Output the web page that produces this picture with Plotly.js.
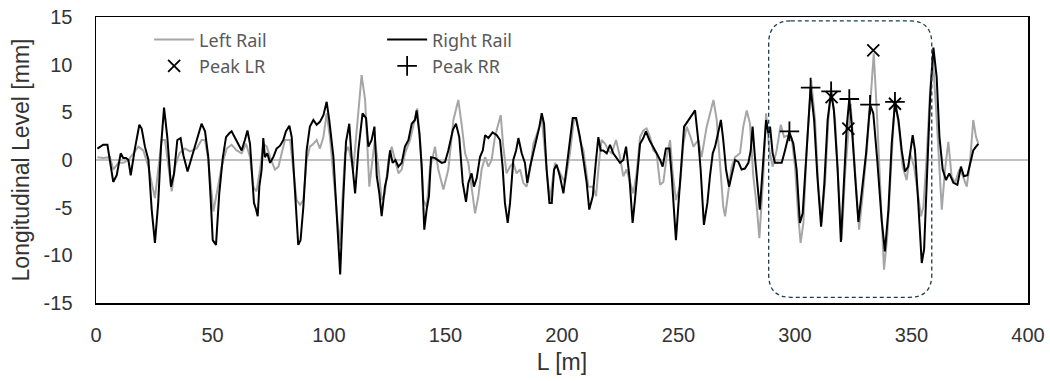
<!DOCTYPE html>
<html>
<head>
<meta charset="utf-8">
<script src="https://cdn.plot.ly/plotly-3.0.1.min.js"></script>
<style>html,body{margin:0;padding:0;background:#fff;}#chart{width:1050px;height:381px;}</style>
</head>
<body>
<div id="chart"></div>
<script>
// Right rail (black) — distance [m] and level [mm]
const rightRailL = [0.6,3.1,4.9,7.4,8.9,10.6,11.7,12.9,13.9,14.9,16.7,18.6,19.6,21.0,22.5,23.9,25.3,26.7,27.9,29.2,30.6,32.2,33.5,34.9,36.3,37.5,39.3,41.1,42.5,43.9,45.3,46.8,48.2,49.2,50.1,51.5,52.9,54.4,55.8,57.2,58.2,59.7,61.1,62.5,63.9,65.0,66.1,66.8,67.8,68.7,69.4,70.1,71.1,71.8,72.5,73.5,74.7,76.1,77.5,79.0,80.4,81.5,83.0,84.0,85.0,85.8,86.8,87.8,89.0,90.4,91.8,93.3,94.7,96.1,97.6,99.0,100.1,101.9,103.3,104.8,106.1,107.3,108.7,109.7,111.2,112.6,114.4,115.9,116.9,118.3,119.5,120.5,121.6,122.6,124.0,125.0,126.2,127.3,128.5,129.8,131.2,132.6,134.1,135.5,136.9,137.6,138.8,139.8,140.9,141.9,142.9,143.8,145.5,146.9,148.4,149.8,151.2,153.2,154.5,155.9,157.4,158.8,159.8,161.2,162.2,163.4,164.8,166.0,167.0,168.4,170.2,172.0,173.4,174.5,175.5,176.7,177.7,179.1,180.3,181.3,182.7,184.1,185.1,186.3,187.7,189.1,190.3,191.3,192.3,193.4,194.6,195.6,196.6,197.7,199.1,200.6,202.0,203.1,204.6,206.0,207.7,209.2,210.6,211.7,213.2,214.6,215.6,216.6,217.7,219.2,220.6,222.0,223.5,224.9,226.3,227.5,228.9,230.3,231.3,232.5,233.5,234.9,236.0,237.5,238.9,240.6,242.1,243.2,244.6,246.1,247.1,248.1,248.9,249.9,251.4,252.4,253.8,255.2,257.1,258.5,259.5,260.9,262.4,263.5,264.7,265.7,267.1,268.2,269.2,270.4,271.7,272.8,274.3,275.7,277.1,278.5,280.0,281.0,281.8,282.8,284.0,284.9,286.1,287.6,288.6,289.3,290.4,291.4,292.9,294.3,295.7,297.6,299.3,300.7,302.1,303.3,304.3,305.4,306.7,308.2,309.6,311.2,312.6,314.0,315.5,316.7,318.3,319.7,321.0,322.2,323.3,324.3,325.8,327.2,328.6,330.5,332.2,333.6,335.3,337.2,338.6,340.1,341.5,342.9,344.4,345.8,347.2,348.6,350.5,351.5,352.9,354.4,355.4,356.5,358.0,359.4,360.8,362.0,363.4,364.8,366.2,368.0,369.7,371.2,372.5,374.0,375.1,376.5,377.7,378.7];
const rightRailV = [1.2,1.6,1.6,-2.3,-1.6,0.7,0.2,0.2,0,-1.6,1.2,3.7,3.3,1.4,0,-5.2,-8.7,-4.5,1.4,5.5,2.4,-2.8,-1.4,2.1,2.3,0.5,-1.2,0.3,1.2,2.6,3.8,3.0,0.3,-4.0,-8.4,-8.9,-3.5,0.2,2.4,2.8,3.0,2.3,1.6,1.0,2.1,3.1,1.7,-1.4,-4.5,-5.2,-5.9,-2.8,-1.0,2.3,0.3,0.7,-0.3,0.3,1.2,1.5,2.1,3.0,3.6,2.4,-1.7,-5.9,-8.9,-8.4,-4.9,1.0,3.5,4.2,3.7,4.0,4.7,6.1,4.2,0.3,-5.2,-12.0,-4.2,1.9,3.8,0.3,-3.5,1.0,4.9,4.4,1.4,2.1,3.5,-1.7,-3.5,-5.9,-2.8,-1.7,1.0,-0.3,0,-0.7,-0.3,1.4,2.1,3.8,4.2,5.2,2.8,-0.7,-7.3,-5.2,-3.8,0.3,0.2,0,-0.3,-0.2,1.0,3.2,3.8,2.4,-2.4,-4.4,-2.4,-1.4,-2.8,-1.9,0.3,1.0,2.6,2.3,2.9,2.6,2.1,-0.7,-4.5,-6.6,-4.5,0,1.0,2.3,0.7,-0.3,-2.4,-0.7,0.7,2.4,3.5,4.9,3.8,-1.0,-4.5,-4.5,-1.0,-0.5,-1.7,-3.5,-0.7,1.7,4.4,4.4,2.4,0,-2.4,-5.2,-3.8,0,2.4,1.0,1.0,0.7,1.6,0.7,0.2,-0.3,0,1.4,-1.7,-6.6,-4.2,-0.7,1.7,2.3,3.0,2.1,1.4,0.7,0,-0.7,1.2,1.2,-1.7,-5.9,-8.4,-4.9,0.7,3.5,4.0,4.5,5.2,2.0,-1.0,-6.8,-4.5,-1.7,0.7,1.4,2.8,4.2,2.1,-1.0,-2.8,-1.7,0,-0.2,-1.0,-0.9,-0.3,1.0,3.5,0.3,-2.8,-5.2,-1.0,4.2,2.8,3.5,0.7,-0.3,-0.3,-0.3,1.0,2.9,1.7,-1.0,-6.6,-5.6,-1.7,3.1,7.6,4.2,-1.7,-7.0,-2.4,4.2,7.1,5.2,-1.0,-8.6,-2.4,3.5,6.4,3.8,-1.7,-6.5,-3.5,0.7,5.8,4.9,0,-6.3,-9.6,-5.2,1.7,6.0,4.2,1.0,-1.2,-0.7,2.6,1.0,-4.5,-10.8,-9.4,-1.7,6.6,11.8,8.7,2.4,-1.0,-2.1,-1.4,-2.4,-2.6,-0.7,-1.7,-1.6,-0.3,1.0,1.4,1.7];

// Left rail (grey)
const leftRailL = [0.6,3.1,6.0,7.4,9.6,11.7,13.9,16.0,18.2,20.3,22.5,23.9,25.3,26.7,28.2,29.6,31.0,32.5,33.9,35.8,38.2,40.3,43.2,45.3,46.8,48.2,50.4,51.8,53.9,56.1,58.2,60.4,62.5,64.4,66.1,67.5,68.9,70.4,71.8,73.3,74.7,76.8,78.3,79.7,81.1,83.3,84.7,86.1,87.6,89.0,90.4,91.8,93.3,94.7,96.1,97.6,99.0,100.4,102.6,104.6,106.9,108.3,110.4,111.9,114.0,115.5,116.5,117.3,118.3,119.7,121.2,122.6,124.0,125.5,126.9,128.3,129.8,131.2,132.6,134.8,136.9,137.9,139.1,140.5,141.9,143.3,145.5,146.9,149.1,151.2,153.4,155.5,156.9,158.4,159.8,161.2,162.7,164.1,165.5,167.0,168.4,169.8,171.2,172.7,173.7,174.8,176.2,177.7,179.1,180.5,182.0,183.4,184.8,186.3,187.7,189.8,191.3,193.4,194.8,197.0,199.1,201.3,203.4,205.1,206.3,207.7,209.2,211.3,213.2,214.6,216.0,217.0,218.5,219.9,221.3,223.2,224.9,226.3,227.7,229.2,230.6,232.0,233.5,234.9,236.3,237.8,239.2,240.6,242.1,243.5,244.9,246.4,247.5,248.9,250.6,252.1,253.5,255.2,256.4,258.5,259.9,262.1,263.5,265.0,266.4,267.8,269.2,270.0,271.4,272.8,274.3,276.4,277.8,279.3,280.7,282.1,283.6,284.7,286.4,287.6,289.0,290.4,292.1,293.9,295.3,297.1,298.6,300.0,301.4,302.4,303.6,305.0,306.9,308.6,310.0,311.4,312.9,314.3,315.5,317.2,318.6,320.0,321.5,322.9,323.9,325.0,326.5,327.5,329.0,330.8,332.5,333.8,335.1,336.5,338.2,339.6,341.5,342.9,344.8,346.2,347.9,349.4,351.1,352.9,354.1,355.1,356.5,358.0,359.1,360.5,362.0,363.0,364.4,365.8,367.2,368.7,370.5,371.9,373.7,375.1,376.5,377.7,378.7];
const leftRailV = [0.3,0.2,0.3,-1.0,-0.3,-0.3,0,0.7,1.4,1.0,-0.7,-2.4,-4.0,-1.0,2.1,2.1,-0.7,-3.3,-0.7,0.7,1.2,0.9,1.2,2.1,2.1,0,-5.4,-3.5,-0.7,1.2,1.6,1.0,0.7,1.7,0.3,-2.8,-3.3,-1.0,1.7,1.4,0.3,-1.0,-0.7,0.7,2.1,2.1,-1.0,-4.2,-4.7,-4.2,0,1.4,1.7,2.1,1.2,2.4,4.9,2.4,-3.5,-9.0,0.7,1.4,-1.0,3.5,8.9,6.3,0.3,-2.8,-0.7,2.1,-0.7,-4.2,-3.5,0,1.4,0,-1.4,-1.0,0.7,2.1,4.5,5.4,2.1,-4.2,-4.9,-1.0,1.4,-1.0,-3.1,-1.0,4.2,6.3,3.8,0.7,-0.3,-2.8,-5.6,-3.8,-1.0,0.3,-0.7,0,2.4,3.8,4.7,1.4,-1.4,-0.7,-0.3,-1.4,-1.0,-2.4,-2.8,-1.0,1.7,3.1,4.4,-1.0,-4.2,-0.3,-1.4,-2.4,0.7,4.2,4.3,2.1,1.0,-2.8,-2.8,-3.8,0,2.1,1.7,1.0,0.7,2.1,0.3,-1.7,-1.0,-2.4,-3.5,-1.4,2.4,3.1,3.3,2.4,1.0,0.7,-2.6,-2.3,0.3,2.1,-1.4,-4.2,-2.8,1.7,3.5,2.4,1.4,2.1,0.3,3.5,4.9,6.3,4.2,0,-4.9,-5.9,-3.5,-0.7,0.3,0.7,3.5,5.2,3.8,-1.7,-4.9,-8.2,-1.7,4.9,1.0,-0.7,1.0,3.7,2.4,2.6,2.3,-0.7,-5.9,-8.7,-6.6,1.0,8.4,4.2,-2.8,-6.6,-2.4,4.2,7.5,4.2,-2.4,-8.4,-1.4,3.5,5.9,1.7,-4.5,-7.3,-3.8,1.0,6.6,11.2,5.2,-3.1,-11.5,-8.0,1.0,6.5,3.1,-0.7,-2.1,0.7,-0.7,-3.8,-5.9,-4.9,0.3,7.3,10.8,5.6,-0.7,-5.2,-1.0,1.9,-1.7,-2.4,-1.0,-1.6,-2.8,-0.3,4.2,2.4,1.7];

// Detected peaks
const peakLRL = [315.7, 322.9, 333.6, 342.9];
const peakLRV = [6.6, 3.3, 11.5, 5.9];
const peakRRL = [297.6, 306.7, 315.5, 323.3, 332.2, 342.9];
const peakRRV = [3.0, 7.6, 7.2, 6.4, 5.8, 6.1];

const xTicks = [0, 50, 100, 150, 200, 250, 300, 350, 400];
const yTicks = [-15, -10, -5, 0, 5, 10, 15];

const legendFont = {family: 'Noto Sans, sans-serif', size: 18, color: '#595959'};
const tickFont = {family: 'Liberation Sans, Arial, sans-serif', size: 20, color: '#333333'};
const titleFont = {family: 'Liberation Sans, Arial, sans-serif', size: 23, color: '#333333'};

const traces = [
  {x: leftRailL, y: leftRailV, name: 'Left Rail', type: 'scatter', mode: 'lines',
   line: {color: '#a6a6a6', width: 2}, legend: 'legend'},
  {x: rightRailL, y: rightRailV, name: 'Right Rail', type: 'scatter', mode: 'lines',
   line: {color: '#000000', width: 2}, legend: 'legend2'},
  {x: peakLRL, y: peakLRV, name: 'Peak LR', type: 'scatter', mode: 'markers',
   marker: {symbol: 'x-thin-open', size: 12, color: '#000', line: {color: '#000', width: 1.8}}, legend: 'legend'},
  {x: peakRRL, y: peakRRV, name: 'Peak RR', type: 'scatter', mode: 'markers',
   marker: {symbol: 'cross-thin-open', size: 14, color: '#000', line: {color: '#000', width: 1.8}}, legend: 'legend2'}
];

// rounded dashed highlight box
const bx0 = 288.7, bx1 = 358.7, by0 = -14.4, by1 = 14.6, rx = 9.5, ry = 2.4;
const boxPath = `M ${bx0+rx},${by1} L ${bx1-rx},${by1} Q ${bx1},${by1} ${bx1},${by1-ry} L ${bx1},${by0+ry} Q ${bx1},${by0} ${bx1-rx},${by0} L ${bx0+rx},${by0} Q ${bx0},${by0} ${bx0},${by0+ry} L ${bx0},${by1-ry} Q ${bx0},${by1} ${bx0+rx},${by1} Z`;

const layout = {
  width: 1050, height: 381,
  margin: {l: 96, r: 22, t: 17, b: 78},
  paper_bgcolor: '#fff', plot_bgcolor: '#fff',
  showlegend: true,
  legend: {x: 0.057, y: 0.985, xanchor: 'left', yanchor: 'top', bgcolor: 'rgba(0,0,0,0)',
           font: legendFont, orientation: 'v', tracegroupgap: 0, itemwidth: 40},
  legend2: {x: 0.307, y: 0.985, xanchor: 'left', yanchor: 'top', bgcolor: 'rgba(0,0,0,0)',
           font: legendFont, orientation: 'v', tracegroupgap: 0, itemwidth: 40},
  xaxis: {range: [0, 400], tickvals: xTicks, ticktext: xTicks.map(String), showgrid: false, zeroline: false,
          showline: true, mirror: true, linecolor: '#000', linewidth: 1.5, ticks: '',
          tickfont: tickFont, ticklabelstandoff: 13,
          title: {text: 'L [m]', font: titleFont, standoff: 9}},
  yaxis: {range: [-15, 15], tickvals: yTicks, ticktext: yTicks.map(String), showgrid: false,
          zeroline: true, zerolinecolor: '#bfbfbf', zerolinewidth: 1.5,
          showline: true, mirror: true, linecolor: '#000', linewidth: 1.5, ticks: '',
          tickfont: tickFont, ticklabelstandoff: 18,
          title: {text: 'Longitudinal Level [mm]', font: titleFont, standoff: 7}},
  shapes: [{type: 'path', xref: 'x', yref: 'y', path: boxPath,
            line: {color: '#1f3b4d', width: 1.3, dash: '4px,3px'}, fillcolor: 'rgba(0,0,0,0)', layer: 'above'}]
};

Plotly.newPlot('chart', traces, layout, {displayModeBar: false, staticPlot: true});
</script>
</body>
</html>
